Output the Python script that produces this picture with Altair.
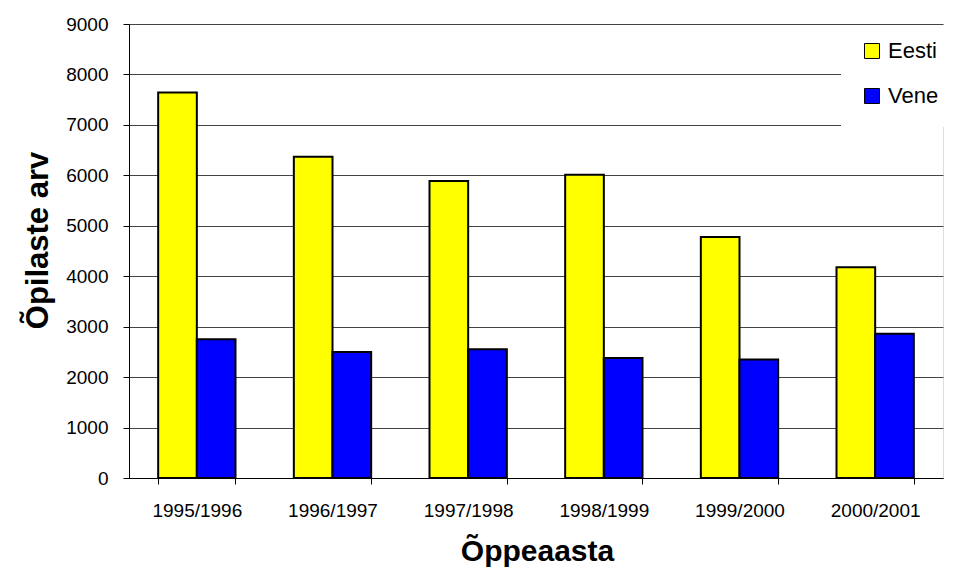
import altair as alt
import pandas as pd

years = ["1995/1996", "1996/1997", "1997/1998", "1998/1999", "1999/2000", "2000/2001"]
eesti = [7640, 6370, 5890, 6010, 4780, 4180]
vene = [2750, 2500, 2550, 2380, 2350, 2860]
series = ["Eesti", "Vene"]
colors = ["#FFFF00", "#0000FF"]
y_ticks = [0, 1000, 2000, 3000, 4000, 5000, 6000, 7000, 8000, 9000]

rows = []
for i, yr in enumerate(years):
    rows.append({"aasta": yr, "keel": "Eesti", "arv": eesti[i]})
    rows.append({"aasta": yr, "keel": "Vene", "arv": vene[i]})
df = pd.DataFrame(rows)

FONT = "Liberation Sans"
PLOT_W = 814

chart = alt.Chart(df).mark_bar(stroke="black", strokeWidth=2).encode(
    x=alt.X(
        "aasta:N",
        sort=years,
        scale=alt.Scale(paddingInner=0.43, paddingOuter=0.215),
        axis=alt.Axis(
            title="Õppeaasta",
            labelAngle=0,
            labelFontSize=19,
            labelFont=FONT,
            labelColor="black",
            labelPadding=17,
            tickBand="extent",
            tickSize=6,
            tickColor="black",
            domainColor="black",
            grid=False,
            titleFont=FONT,
            titleFontSize=30,
            titleFontWeight="bold",
            titleColor="black",
            titleX=408,
            titleY=82,
            titleBaseline="alphabetic",
            titleAlign="center",
        ),
    ),
    xOffset=alt.XOffset("keel:N", sort=series, scale=alt.Scale(paddingInner=0, paddingOuter=0)),
    y=alt.Y(
        "arv:Q",
        scale=alt.Scale(domain=[0, 9000], nice=False),
        axis=alt.Axis(
            title="Õpilaste arv",
            values=y_ticks,
            format="d",
            labelFontSize=19,
            labelFont=FONT,
            labelColor="black",
            labelPadding=15,
            tickSize=6,
            tickColor="black",
            domainColor="black",
            grid=True,
            gridColor="#444444",
            gridWidth=1,
            titleFont=FONT,
            titleFontSize=31,
            titleFontWeight="bold",
            titleColor="black",
            titleAngle=270,
            titleX=-82,
            titleY=216,
            titleBaseline="alphabetic",
            titleAlign="center",
        ),
    ),
    color=alt.Color(
        "keel:N",
        sort=series,
        scale=alt.Scale(domain=series, range=colors),
        legend=alt.Legend(
            title=" ",
            titleOrient="bottom",
            titleFontSize=5,
            titlePadding=0,
            orient="none",
            legendX=712,
            legendY=1,
            fillColor="white",
            padding=15,
            symbolOffset=5,
            symbolType="square",
            symbolSize=225,
            symbolStrokeColor="black",
            symbolStrokeWidth=1,
            symbolOpacity=1,
            labelFont=FONT,
            labelFontSize=22,
            labelColor="black",
            labelOffset=5,
            rowPadding=23,
        ),
    ),
).properties(
    width=PLOT_W,
    height=454,
    autosize=alt.AutoSizeParams(type="none"),
    padding={"left": 121, "top": 16, "right": 3, "bottom": 90},
).configure_view(strokeWidth=0).configure(background="white")

chart.save("out.html", embed_options={"renderer": "svg", "actions": False})
